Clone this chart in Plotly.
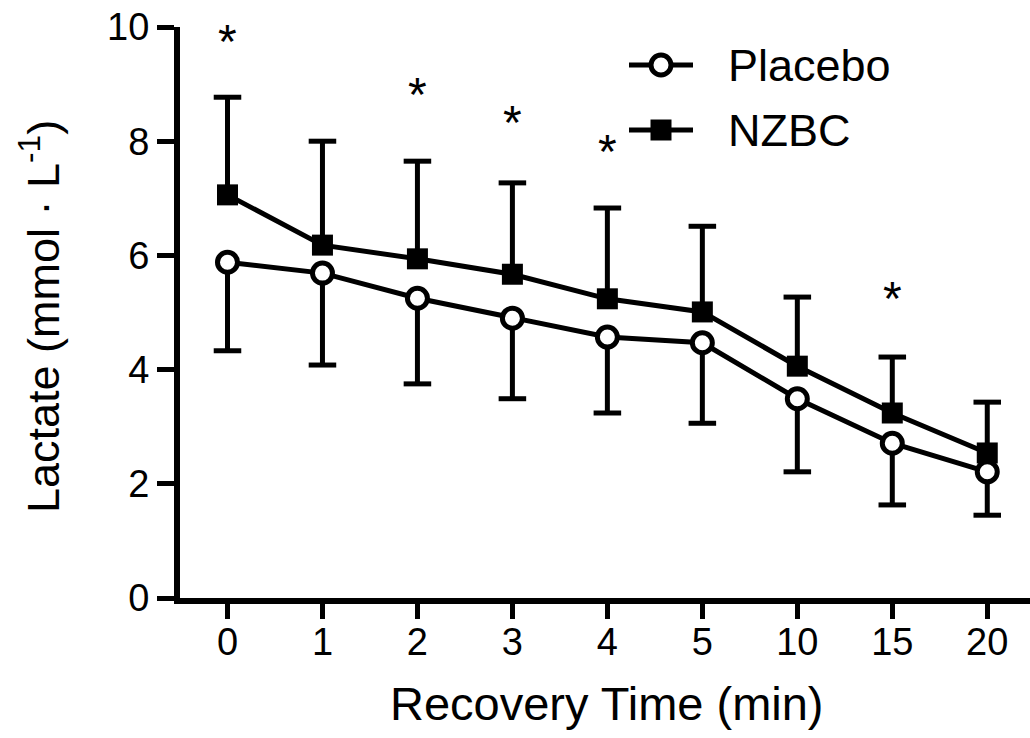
import plotly.graph_objects as go

# ---- data ----
time_labels = ["0", "1", "2", "3", "4", "5", "10", "15", "20"]
placebo_mean = [5.88, 5.69, 5.25, 4.90, 4.57, 4.47, 3.49, 2.71, 2.21]
placebo_sd = [1.55, 1.61, 1.50, 1.41, 1.33, 1.41, 1.28, 1.08, 0.76]
nzbc_mean = [7.06, 6.18, 5.94, 5.67, 5.24, 5.01, 4.06, 3.24, 2.54]
nzbc_sd = [1.71, 1.82, 1.71, 1.60, 1.59, 1.50, 1.21, 0.98, 0.89]
sig_labels = ["0", "2", "3", "4", "15"]
sig_y = [9.84, 8.90, 8.41, 7.90, 5.34]
y_ticks = [0, 2, 4, 6, 8, 10]

FONT = "Liberation Sans, Arial, sans-serif"
BLACK = "#000000"
LW = 5
AXW = 6
CAP = 0.145  # half cap width in category units

xpos = list(range(len(time_labels)))


def err_path(means, sds, direction):
    xs, ys = [], []
    for x, m, s in zip(xpos, means, sds):
        end = m + direction * s
        xs += [x, x, None, x - CAP, x + CAP, None]
        ys += [m, end, None, end, end, None]
    return xs, ys


fig = go.Figure()

ex, ey = err_path(nzbc_mean, nzbc_sd, +1)
fig.add_trace(go.Scatter(x=ex, y=ey, mode="lines", line=dict(color=BLACK, width=LW),
                         hoverinfo="skip", showlegend=False))
ex, ey = err_path(placebo_mean, placebo_sd, -1)
fig.add_trace(go.Scatter(x=ex, y=ey, mode="lines", line=dict(color=BLACK, width=LW),
                         hoverinfo="skip", showlegend=False))

fig.add_trace(go.Scatter(x=xpos, y=nzbc_mean, mode="lines+markers", name="NZBC",
                         line=dict(color=BLACK, width=LW),
                         marker=dict(symbol="square", size=21, color=BLACK,
                                     line=dict(width=0)),
                         showlegend=False))
fig.add_trace(go.Scatter(x=xpos, y=placebo_mean, mode="lines+markers", name="Placebo",
                         line=dict(color=BLACK, width=LW),
                         marker=dict(symbol="circle", size=20, color="white",
                                     line=dict(color=BLACK, width=LW)),
                         showlegend=False))

# significance asterisks
for lab, yv in zip(sig_labels, sig_y):
    fig.add_annotation(x=time_labels.index(lab), y=yv, xref="x", yref="y",
                       text="*", showarrow=False, yshift=-5,
                       font=dict(family=FONT, size=48, color=BLACK))

# ---- layout geometry (screen pixel positions of the plot area) ----
L, T, PW, PH = 180, 27, 850, 571
W, H = 1030, 738


def px(xs):
    return (xs - L) / PW


def py(ys):
    return (T + PH - ys) / PH


legend_rows = [("Placebo", 65), ("NZBC", 130)]
for name, yrow in legend_rows:
    fig.add_shape(type="line", xref="paper", yref="paper",
                  x0=px(629), x1=px(693), y0=py(yrow), y1=py(yrow),
                  line=dict(color=BLACK, width=LW))
    if name == "Placebo":
        fig.add_shape(type="circle", xref="paper", yref="paper",
                      x0=px(661 - 10), x1=px(661 + 10),
                      y0=py(yrow + 10), y1=py(yrow - 10),
                      fillcolor="white", line=dict(color=BLACK, width=LW))
    else:
        fig.add_shape(type="rect", xref="paper", yref="paper",
                      x0=px(661 - 10.5), x1=px(661 + 10.5),
                      y0=py(yrow + 10.5), y1=py(yrow - 10.5),
                      fillcolor=BLACK, line=dict(color=BLACK, width=0))
    fig.add_annotation(x=px(726), y=py(yrow), xref="paper", yref="paper",
                       text=name, showarrow=False, xanchor="left", yanchor="middle",
                       font=dict(family=FONT, size=45, color=BLACK))

# axis titles
fig.add_annotation(x=px(40), y=py(317), xref="paper", yref="paper",
                   text="Lactate (mmol · L<sup>-1</sup>)", textangle=-90,
                   showarrow=False, xanchor="center", yanchor="middle",
                   font=dict(family=FONT, size=45, color=BLACK))
fig.add_annotation(x=px(607), y=py(703), xref="paper", yref="paper",
                   text="Recovery Time (min)", showarrow=False,
                   xanchor="center", yanchor="middle",
                   font=dict(family=FONT, size=47, color=BLACK))

fig.update_layout(
    width=W, height=H,
    margin=dict(l=L, r=W - L - PW, t=T, b=H - T - PH, autoexpand=False),
    paper_bgcolor="white", plot_bgcolor="white",
    showlegend=False,
    font=dict(family=FONT, color=BLACK),
    xaxis=dict(range=[-0.5, 8.45], tickmode="array", tickvals=xpos, ticktext=time_labels,
               showline=True, linecolor=BLACK, linewidth=AXW, ticks="outside",
               ticklen=15, tickwidth=LW, tickcolor=BLACK, showgrid=False, zeroline=False,
               ticklabelstandoff=-10, ticklabeloverflow="allow",
               tickfont=dict(family=FONT, size=38, color=BLACK)),
    yaxis=dict(range=[0, 10], tickmode="array", tickvals=y_ticks,
               showline=True, linecolor=BLACK, linewidth=AXW, ticks="outside",
               ticklen=17, tickwidth=LW, tickcolor=BLACK, showgrid=False, zeroline=False,
               ticklabeloverflow="allow",
               tickfont=dict(family=FONT, size=38, color=BLACK)),
)

fig.write_html("out.html",
               config={"displayModeBar": False},
               post_script="document.body.style.margin='0';document.body.style.overflow='hidden';")
